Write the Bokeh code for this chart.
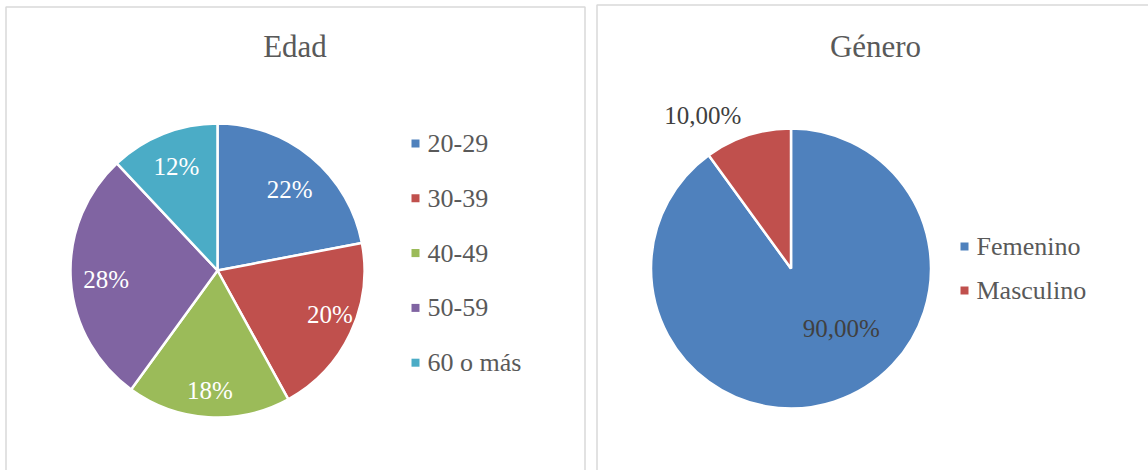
import math
from bokeh.plotting import figure
from bokeh.models import Range1d, ColumnDataSource
from bokeh.core.properties import value
from bokeh.embed import file_html
from bokeh.resources import INLINE

# ---------------- data ----------------
edad_title = "Edad"
edad_cats = ["20-29", "30-39", "40-49", "50-59", "60 o más"]
edad_vals = [22, 20, 18, 28, 12]
edad_labels = ["22%", "20%", "18%", "28%", "12%"]
edad_colors = ["#4F81BD", "#C0504D", "#9BBB59", "#8064A2", "#4BACC6"]

genero_title = "Género"
genero_cats = ["Femenino", "Masculino"]
genero_vals = [90.0, 10.0]
genero_labels = ["90,00%", "10,00%"]
genero_colors = ["#4F81BD", "#C0504D"]

# ---------------- layout (pixels, y from top) ----------------
W, H = 1148, 470
FONT = value("Liberation Serif")

def Y(y):
    return H - y

p = figure(width=W, height=H, output_backend="svg", toolbar_location=None,
           x_range=Range1d(0, W), y_range=Range1d(0, H), min_border=0)
p.axis.visible = False
p.grid.visible = False
p.outline_line_color = None
p.background_fill_color = "white"
p.border_fill_color = "white"

# panel borders
p.quad(left=[5.5, 596.5], right=[584.5, 1170], top=[Y(6.5), Y(4.5)], bottom=[-20, -20],
       fill_color=None, line_color="#D9D9D9", line_width=1.5)


def pie(cx, cy, r, vals, colors, labels, label_pos, label_colors, label_size):
    total = float(sum(vals))
    starts, ends, mids = [], [], []
    acc = 0.0
    for v in vals:
        s = acc / total
        acc += v
        e = acc / total
        starts.append(math.pi / 2 - s * 2 * math.pi)
        ends.append(math.pi / 2 - e * 2 * math.pi)
        mids.append((s + e) / 2)
    src = ColumnDataSource(dict(start=starts, end=ends, color=colors))
    p.wedge(x=cx, y=Y(cy), radius=r, start_angle="start", end_angle="end",
            direction="clock", fill_color="color", line_color="white",
            line_width=2.5, source=src)
    lx, ly = [], []
    for m, (fr, dang) in zip(mids, label_pos):
        a = (m * 360 + dang) * math.pi / 180  # clockwise from top
        lx.append(cx + fr * r * math.sin(a))
        ly.append(Y(cy) + fr * r * math.cos(a))
    p.text(x=lx, y=ly, text=labels, text_font=FONT, text_font_size=label_size,
           text_color=label_colors, text_align="center", text_baseline="middle")


def legend(x, y0, dy, cats, colors):
    ys = [Y(y0 + i * dy) for i in range(len(cats))]
    p.scatter(x=[x] * len(cats), y=ys, marker="square", size=8,
              fill_color=colors, line_color=None)
    p.text(x=[x + 12] * len(cats), y=ys, text=cats, text_font=FONT,
           text_font_size="26px", text_color="#595959", text_align="left",
           text_baseline="middle")


# left: Edad
p.text(x=[294.5], y=[Y(46)], text=[edad_title], text_font=FONT, text_font_size="31px",
       text_color="#595959", text_align="center", text_baseline="middle")
pie(217, 270, 147, edad_vals, edad_colors, edad_labels,
    [(0.74, 2), (0.82, -4), (0.82, 0), (0.76, -1), (0.76, 0)],
    ["white"] * 5, "25px")
legend(415, 143, 54.8, edad_cats, edad_colors)

# right: Género
p.text(x=[875], y=[Y(46)], text=[genero_title], text_font=FONT, text_font_size="31px",
       text_color="#595959", text_align="center", text_baseline="middle")
pie(790.5, 268, 140, genero_vals, genero_colors, genero_labels,
    [(0.56, -22), (1.26, -12)],
    ["#404040", "#404040"], "25px")
legend(964, 246, 44, genero_cats, genero_colors)

open("out.html", "w").write(file_html(p, INLINE))
